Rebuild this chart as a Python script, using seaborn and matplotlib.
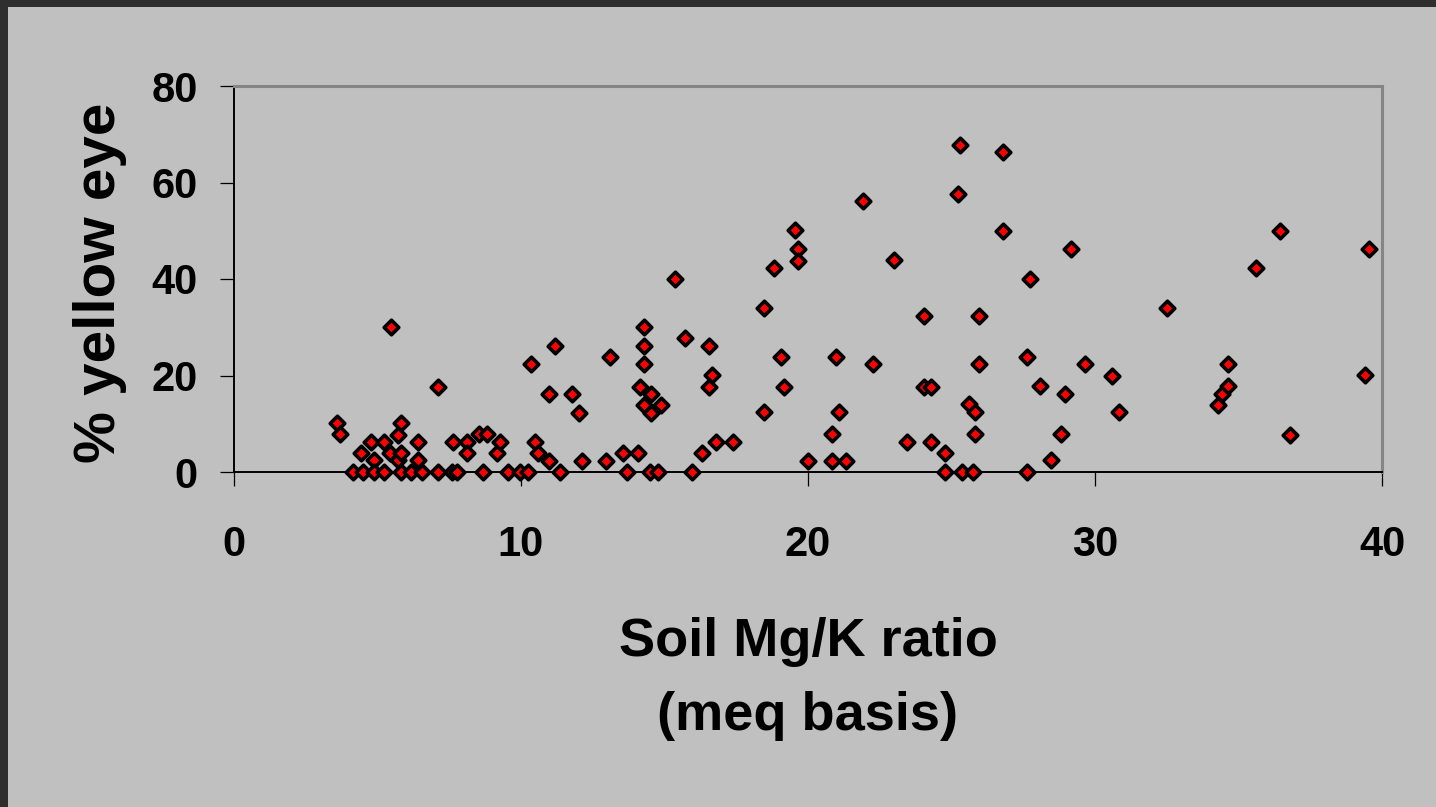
import matplotlib
matplotlib.use("Agg")
import matplotlib.pyplot as plt
import seaborn as sns
import pandas as pd
from matplotlib.patches import Rectangle

# ---- data ----
mg_k_ratio = [
    3.58, 3.69, 4.15, 4.42, 4.50, 4.76, 4.88, 4.88, 5.24, 5.24,
    5.44, 5.47, 5.73, 5.73, 5.82, 5.82, 5.81, 6.16, 6.42, 6.42,
    6.55, 7.10, 7.12, 7.64, 7.60, 7.76, 8.11, 8.11, 8.55, 8.69,
    8.83, 9.15, 9.27, 9.53, 9.95, 10.23, 10.35, 10.48, 10.60, 10.96,
    10.96, 11.17, 11.35, 11.79, 12.02, 12.14, 12.97, 13.09, 13.57, 13.68,
    14.06, 14.15, 14.29, 14.29, 14.29, 14.29, 14.53, 14.53, 14.50, 14.77,
    14.88, 15.37, 15.72, 15.95, 16.31, 16.56, 16.56, 16.67, 16.78, 17.37,
    18.45, 18.45, 18.82, 19.05, 19.17, 19.53, 19.65, 19.65, 20.00, 20.84,
    20.84, 20.96, 21.07, 21.33, 21.90, 22.25, 22.98, 23.44, 24.05, 24.05,
    24.28, 24.28, 24.77, 24.77, 25.30, 25.24, 25.36, 25.60, 25.74, 25.83,
    25.83, 25.96, 25.96, 26.78, 26.78, 27.63, 27.63, 27.74, 28.09, 28.46,
    28.82, 28.94, 29.17, 29.65, 30.60, 30.85, 32.50, 34.28, 34.42, 34.65,
    34.65, 35.60, 36.43, 36.80, 39.42, 39.53,
]
yellow_eye_pct = [
    10.1, 7.9, 0.0, 3.9, 0.0, 6.2, 2.5, 0.0, 6.2, 0.0,
    4.0, 30.0, 7.7, 2.5, 10.1, 3.9, 0.0, 0.0, 6.2, 2.5,
    0.0, 0.0, 17.7, 6.2, 0.0, 0.0, 6.2, 3.9, 7.9, 0.0,
    7.9, 3.9, 6.2, 0.0, 0.0, 0.0, 22.3, 6.2, 3.9, 2.3,
    16.2, 26.2, 0.0, 16.2, 12.3, 2.3, 2.3, 23.9, 3.9, 0.0,
    3.9, 17.7, 30.0, 26.1, 22.3, 13.9, 16.2, 12.3, 0.0, 0.0,
    13.9, 40.0, 27.7, 0.0, 3.9, 26.1, 17.7, 20.1, 6.2, 6.2,
    33.9, 12.4, 42.3, 23.9, 17.7, 50.2, 46.2, 43.8, 2.3, 7.8,
    2.3, 23.9, 12.4, 2.3, 56.2, 22.4, 43.9, 6.3, 32.3, 17.7,
    17.7, 6.3, 3.9, 0.0, 67.8, 57.7, 0.0, 14.0, 0.0, 12.4,
    7.8, 32.3, 22.3, 66.3, 50.0, 23.9, 0.0, 40.0, 17.8, 2.4,
    7.8, 16.2, 46.2, 22.3, 20.0, 12.4, 33.9, 13.9, 16.2, 17.8,
    22.4, 42.3, 50.0, 7.7, 20.1, 46.2,
]
x_ticks = [0, 10, 20, 30, 40]
y_ticks = [0, 20, 40, 60, 80]
x_label = "Soil Mg/K ratio\n(meq basis)"
y_label = "% yellow eye"

# ---- style ----
sns.set_theme(style="white")
plt.rcParams["font.family"] = ["Liberation Sans", "DejaVu Sans"]
plt.rcParams["font.weight"] = "bold"
plt.rcParams["text.color"] = "black"
plt.rcParams["axes.labelcolor"] = "black"
plt.rcParams["xtick.color"] = "black"
plt.rcParams["ytick.color"] = "black"

BG = "#c0c0c0"
W, H = 1436, 807
fig = plt.figure(figsize=(W / 100, H / 100), dpi=100, facecolor=BG)
ax = fig.add_axes([234 / W, 1 - 472 / H, 1148 / W, 386 / H])
ax.set_facecolor(BG)

df = pd.DataFrame({"mgk": mg_k_ratio, "ye": yellow_eye_pct})
sns.scatterplot(data=df, x="mgk", y="ye", marker="D", color="#ff0000",
                edgecolor="black", linewidth=2.6, s=55, clip_on=False,
                zorder=5, legend=False, ax=ax)

ax.set_xlim(0, 40)
ax.set_ylim(0, 80)
ax.set_xticks(x_ticks)
ax.set_yticks(y_ticks)
ax.set_xticklabels([str(t) for t in x_ticks], fontsize=30, fontweight="bold", color="black")
ax.set_yticklabels([str(t) for t in y_ticks], fontsize=30, fontweight="bold", color="black")
ax.tick_params(axis="x", direction="out", length=10, width=0.9, color="black", pad=28, bottom=True)
ax.tick_params(axis="y", direction="out", length=10, width=0.9, color="black", pad=16, left=True)

for s in ["left", "bottom"]:
    ax.spines[s].set_color("black")
    ax.spines[s].set_linewidth(1.4)
for s in ["top", "right"]:
    ax.spines[s].set_color("#858585")
    ax.spines[s].set_linewidth(2.2)

ax.set_xlabel(x_label, fontsize=39, fontweight="bold", linespacing=1.62, color="black")
ax.set_ylabel(y_label, fontsize=42, fontweight="bold", color="black")
ax.xaxis.set_label_coords(0.5, -0.375)
ax.yaxis.set_label_coords(-0.093, 0.49)

# dark frame at top and left edges
fig.add_artist(Rectangle((0, 1 - 7 / H), 1, 7 / H, transform=fig.transFigure,
                         facecolor="#2e2e2e", edgecolor="none"))
fig.add_artist(Rectangle((0, 0), 8 / W, 1, transform=fig.transFigure,
                         facecolor="#2e2e2e", edgecolor="none"))

fig.savefig("out.png", dpi=100, facecolor=BG)
